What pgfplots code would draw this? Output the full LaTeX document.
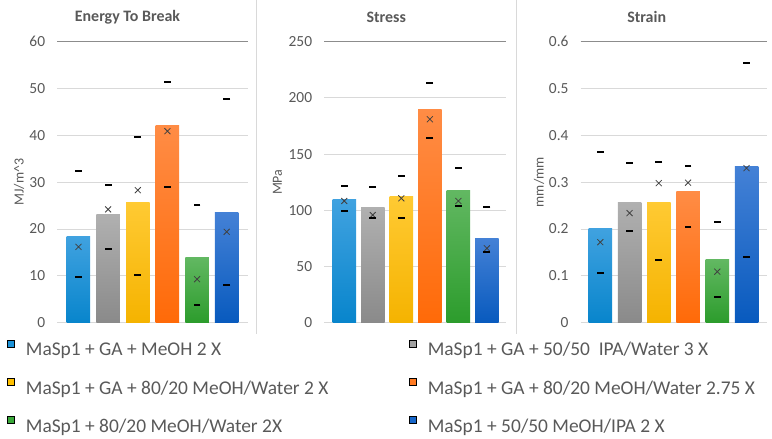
\documentclass[border=0pt]{standalone}
\usepackage{pgfplots}
\pgfplotsset{compat=1.18}
\usepackage{fontspec}
\setmainfont{Carlito}
\definecolor{bTop}{HTML}{40A2E0}\definecolor{bBot}{HTML}{0885CC}
\definecolor{gTop}{HTML}{B0B0B0}\definecolor{gBot}{HTML}{8A8A8A}
\definecolor{yTop}{HTML}{FFCA33}\definecolor{yBot}{HTML}{F5B300}
\definecolor{oTop}{HTML}{FF8C45}\definecolor{oBot}{HTML}{FF6A08}
\definecolor{grTop}{HTML}{62B862}\definecolor{grBot}{HTML}{2C9C2C}
\definecolor{dTop}{HTML}{4481D6}\definecolor{dBot}{HTML}{085ABE}
\definecolor{bL}{HTML}{1C92D8}\definecolor{gL}{HTML}{A0A0A0}
\definecolor{yL}{HTML}{FFC000}\definecolor{oL}{HTML}{FF7A22}
\definecolor{grL}{HTML}{3AA83A}\definecolor{dL}{HTML}{1766C9}
\definecolor{gridgray}{HTML}{D9D9D9}
\definecolor{topgray}{HTML}{8C8C8C}
\definecolor{labgray}{HTML}{595959}
\definecolor{markgray}{HTML}{404040}
\pgfplotsset{
  panel/.style={
    scale only axis, height=281bp, ymin=0,
    axis line style={draw=none},
    major tick length=0pt,
    xtick=\empty,
    ymajorgrids, grid style={color=gridgray, line width=0.8bp},
    yticklabel style={font=\fontsize{15.5}{15.5}\selectfont, color=labgray, inner sep=0pt, xshift=-12bp},
    /pgf/number format/assume math mode=true,
    ylabel style={font=\fontsize{14}{14}\selectfont, color=labgray, rotate=0, anchor=center},
    anchor=south west, clip=false,
  },
  bar/.style={ybar, bar width=23.5bp, bar shift=0pt, draw=none, forget plot},
  meanmark/.style={only marks, mark=x, mark size=4.2bp, color=markgray, mark options={line width=0.8bp}, forget plot},
  dashmark/.style={only marks, mark=-, mark size=3.4bp, color=black, mark options={line width=2bp}, forget plot},
}
\begin{document}
\begin{tikzpicture}
\useasboundingbox (0,0) rectangle (772bp,439bp);
\draw[gridgray, line width=0.8bp] (256bp,439bp) -- (256bp,105bp);
\draw[gridgray, line width=0.8bp] (516.7bp,439bp) -- (516.7bp,105bp);
% Panel 1: Energy To Break
\begin{axis}[panel, at={(57.3bp,116.3bp)}, width=190.4bp, xmin=-0.715, xmax=5.708, ymax=60, ytick={0,10,...,60},
  ylabel={MJ/m\^{}3}, ylabel style={at={(axis description cs:-0.201,0.5)}},
  legend columns=2,
  legend style={at={(axis description cs:-0.2626,-0.060)}, anchor=north west, draw=none, fill=none, inner sep=0pt,
    font=\fontsize{19.5}{19.5}\selectfont, text=labgray, nodes={inner sep=0pt}, row sep=20.8bp,
    /tikz/every odd column/.append style={column sep=11bp},
    /tikz/every even column/.append style={column sep=81bp}},
  legend cell align=left,
  legend image code/.code={\fill[#1] (0bp,2.8bp) rectangle (7bp,9.8bp);},
]
\draw[topgray, line width=0.8bp] (rel axis cs:0,1) -- (rel axis cs:1,1);
\addplot[bar, top color=bTop, bottom color=bBot] coordinates {(0,18.5)};
\addplot[bar, top color=gTop, bottom color=gBot] coordinates {(1,23.0)};
\addplot[bar, top color=yTop, bottom color=yBot] coordinates {(2,25.7)};
\addplot[bar, top color=oTop, bottom color=oBot] coordinates {(3,42.1)};
\addplot[bar, top color=grTop, bottom color=grBot] coordinates {(4,14.0)};
\addplot[bar, top color=dTop, bottom color=dBot] coordinates {(5,23.5)};
\addplot[meanmark] coordinates {(0,16.2) (1,24.2) (2,28.3) (3,40.9) (4,9.3) (5,19.4)};
\addplot[dashmark] coordinates {(0,32.4) (1,29.4) (2,39.7) (3,51.5) (4,25.1) (5,47.8)};
\addplot[dashmark] coordinates {(0,9.7) (1,15.7) (2,10.1) (3,28.9) (4,3.7) (5,8.0)};
\addlegendimage{fill=bL}\addlegendentry{MaSp1 + GA + MeOH 2 X}
\addlegendimage{fill=gL}\addlegendentry{MaSp1 + GA + 50/50 \ IPA/Water 3 X}
\addlegendimage{fill=yL}\addlegendentry{MaSp1 + GA + 80/20 MeOH/Water 2 X}
\addlegendimage{fill=oL}\addlegendentry{MaSp1 + GA + 80/20 MeOH/Water 2.75 X}
\addlegendimage{fill=grL}\addlegendentry{MaSp1 + 80/20 MeOH/Water 2X}
\addlegendimage{fill=dL}\addlegendentry{MaSp1 + 50/50 MeOH/IPA 2 X}
\end{axis}
% Panel 2: Stress
\begin{axis}[panel, at={(324.3bp,116.3bp)}, width=181.7bp, xmin=-0.70, xmax=5.67, ymax=250, ytick={0,50,...,250},
  ylabel={MPa}, ylabel style={at={(axis description cs:-0.258,0.5)}}]
\draw[topgray, line width=0.8bp] (rel axis cs:0,1) -- (rel axis cs:1,1);
\addplot[bar, top color=bTop, bottom color=bBot] coordinates {(0,109.2)};
\addplot[bar, top color=gTop, bottom color=gBot] coordinates {(1,102.9)};
\addplot[bar, top color=yTop, bottom color=yBot] coordinates {(2,112.7)};
\addplot[bar, top color=oTop, bottom color=oBot] coordinates {(3,189.5)};
\addplot[bar, top color=grTop, bottom color=grBot] coordinates {(4,117.4)};
\addplot[bar, top color=dTop, bottom color=dBot] coordinates {(5,75.1)};
\addplot[meanmark] coordinates {(0,108.3) (1,95.8) (2,110.7) (3,181.0) (4,108.3) (5,66.2)};
\addplot[dashmark] coordinates {(0,121.9) (1,120.4) (2,130.8) (3,213.5) (4,137.4) (5,102.9)};
\addplot[dashmark] coordinates {(0,99.6) (1,92.9) (2,92.9) (3,164.0) (4,104.1) (5,63.2)};
\end{axis}
% Panel 3: Strain
\begin{axis}[panel, at={(580.7bp,116.3bp)}, width=186bp, xmin=-0.67, xmax=5.69, ymax=0.6, ytick={0,0.1,...,0.6},
  yticklabel style={/pgf/number format/fixed},
  ylabel={mm/mm}, ylabel style={at={(axis description cs:-0.224,0.5)}}]
\draw[topgray, line width=0.8bp] (rel axis cs:0,1) -- (rel axis cs:1,1);
\addplot[bar, top color=bTop, bottom color=bBot] coordinates {(0,0.2016)};
\addplot[bar, top color=gTop, bottom color=gBot] coordinates {(1,0.257)};
\addplot[bar, top color=yTop, bottom color=yBot] coordinates {(2,0.257)};
\addplot[bar, top color=oTop, bottom color=oBot] coordinates {(3,0.280)};
\addplot[bar, top color=grTop, bottom color=grBot] coordinates {(4,0.135)};
\addplot[bar, top color=dTop, bottom color=dBot] coordinates {(5,0.333)};
\addplot[meanmark] coordinates {(0,0.172) (1,0.234) (2,0.298) (3,0.299) (4,0.109) (5,0.330)};
\addplot[dashmark] coordinates {(0,0.364) (1,0.342) (2,0.344) (3,0.335) (4,0.215) (5,0.555)};
\addplot[dashmark] coordinates {(0,0.107) (1,0.196) (2,0.133) (3,0.204) (4,0.054) (5,0.140)};
\end{axis}
\node[font=\bfseries\fontsize{16}{16}\selectfont, color=labgray] at (127.5bp,421.7bp) {Energy To Break};
\node[font=\bfseries\fontsize{16}{16}\selectfont, color=labgray] at (386.3bp,421.7bp) {Stress};
\node[font=\bfseries\fontsize{16}{16}\selectfont, color=labgray] at (646.7bp,421.7bp) {Strain};
\end{tikzpicture}
\end{document}
